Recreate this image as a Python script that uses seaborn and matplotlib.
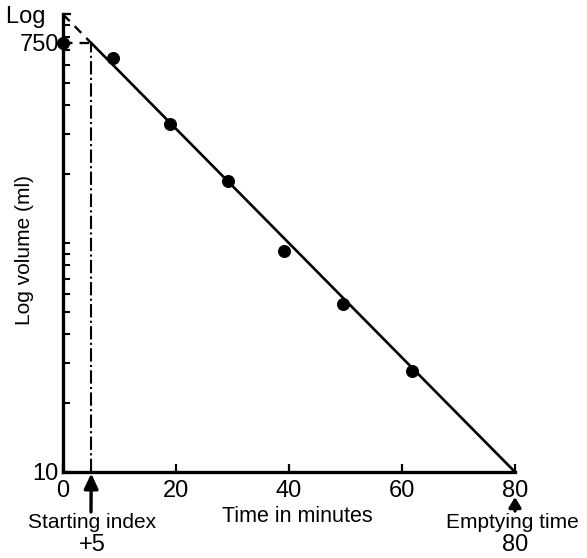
import matplotlib
matplotlib.use("Agg")
import matplotlib.pyplot as plt
import seaborn as sns
import numpy as np
import pandas as pd
from matplotlib.ticker import FixedLocator, NullFormatter

# Data
time_min = [0, 8.9, 18.9, 29.2, 39.1, 49.6, 61.8]
volume_ml = [750, 645, 332, 187, 92.5, 54.2, 27.6]
fit_time = [5, 80]
fit_volume = [750, 10]
extrap_time = [0, 5]
extrap_volume = [1000, 750]
x_ticks = [0, 20, 40, 60, 80]
y_ticks = [10, 750, 1000]
y_tick_labels = ["10", "750", "Log  "]
y_minor = [20, 30, 40, 50, 60, 70, 80, 90, 100, 200, 300, 400, 500, 600, 700, 800, 900]
start_index = 5
empty_time = 80

sns.set_theme(style="white")
plt.rcParams['font.family'] = ['Liberation Sans', 'DejaVu Sans']

W, H = 587, 558
fig = plt.figure(figsize=(W / 100, H / 100), dpi=100)
ax = fig.add_axes([63 / W, 86 / H, (515 - 63) / W, (472 - 14.4) / H])

df_pts = pd.DataFrame({"t": time_min, "v": volume_ml})
df_fit = pd.DataFrame({"t": fit_time, "v": fit_volume})

sns.lineplot(data=df_fit, x="t", y="v", ax=ax, color="black", lw=1.9)
sns.scatterplot(data=df_pts, x="t", y="v", ax=ax, color="black", s=75,
                edgecolor="black", clip_on=False, zorder=5)
# extrapolation
ax.plot(extrap_time, extrap_volume, color="black", lw=1.7, ls=(0, (4, 3)), clip_on=False)
ax.plot([0, start_index], [750, 750], color="black", lw=1.7, ls=(0, (4, 3)))
ax.plot([start_index, start_index], [10, 750], color="black", lw=1.5, ls="-.")

ax.set_yscale("log")
ax.set_xlim(0, 80)
ax.set_ylim(10, 1000)
ax.set_xticks(x_ticks)
ax.set_xticklabels([str(v) for v in x_ticks])
ax.yaxis.set_major_locator(FixedLocator(y_ticks))
ax.set_yticklabels(y_tick_labels)
ax.yaxis.set_minor_locator(FixedLocator(y_minor))
ax.yaxis.set_minor_formatter(NullFormatter())
ax.xaxis.set_minor_locator(FixedLocator([]))

for s in ["top", "right"]:
    ax.spines[s].set_visible(False)
for s in ["left", "bottom"]:
    ax.spines[s].set_linewidth(2.4)
    ax.spines[s].set_color("black")

ax.tick_params(axis="both", which="both", left=True, bottom=True, direction="in",
               colors="black")
ax.tick_params(axis="both", which="major", length=6, width=1.6, labelsize=17)
ax.tick_params(axis="y", which="minor", length=5, width=1.5)
ax.tick_params(axis="y", which="major", pad=3)
ax.tick_params(axis="x", which="major", pad=6)

ax.set_xlabel("")
ax.set_ylabel("")

fig.text(297 / W, 1 - 516 / H, "Time in minutes", ha="center", va="center",
         fontsize=15.5, color="black")
fig.text(25 / W, 1 - 250 / H, "Log volume (ml)", ha="center", va="center",
         rotation=90, fontsize=15, color="black")

# Annotations
ax.annotate("", xy=(start_index, 10), xycoords="data",
            xytext=(91, H - 512), textcoords="figure pixels",
            arrowprops=dict(arrowstyle="-|>,head_width=0.35,head_length=0.75",
                            color="black", lw=2.4, shrinkA=0, shrinkB=1))
fig.text(92 / W, 1 - 523 / H, "Starting index", ha="center", va="center",
         fontsize=15, color="black")
fig.text(92 / W, 1 - 545 / H, "+5", ha="center", va="center",
         fontsize=17, color="black")
ax.annotate("", xy=(515, H - 497), xycoords="figure pixels",
            xytext=(515, H - 511), textcoords="figure pixels",
            arrowprops=dict(arrowstyle="-|>,head_width=0.3,head_length=0.5",
                            color="black", lw=2.4, shrinkA=0, shrinkB=0))
fig.text(512 / W, 1 - 523 / H, "Emptying time", ha="center", va="center",
         fontsize=15, color="black")
fig.text(515 / W, 1 - 545 / H, "80", ha="center", va="center",
         fontsize=17, color="black")

fig.savefig("out.png", dpi=100)
